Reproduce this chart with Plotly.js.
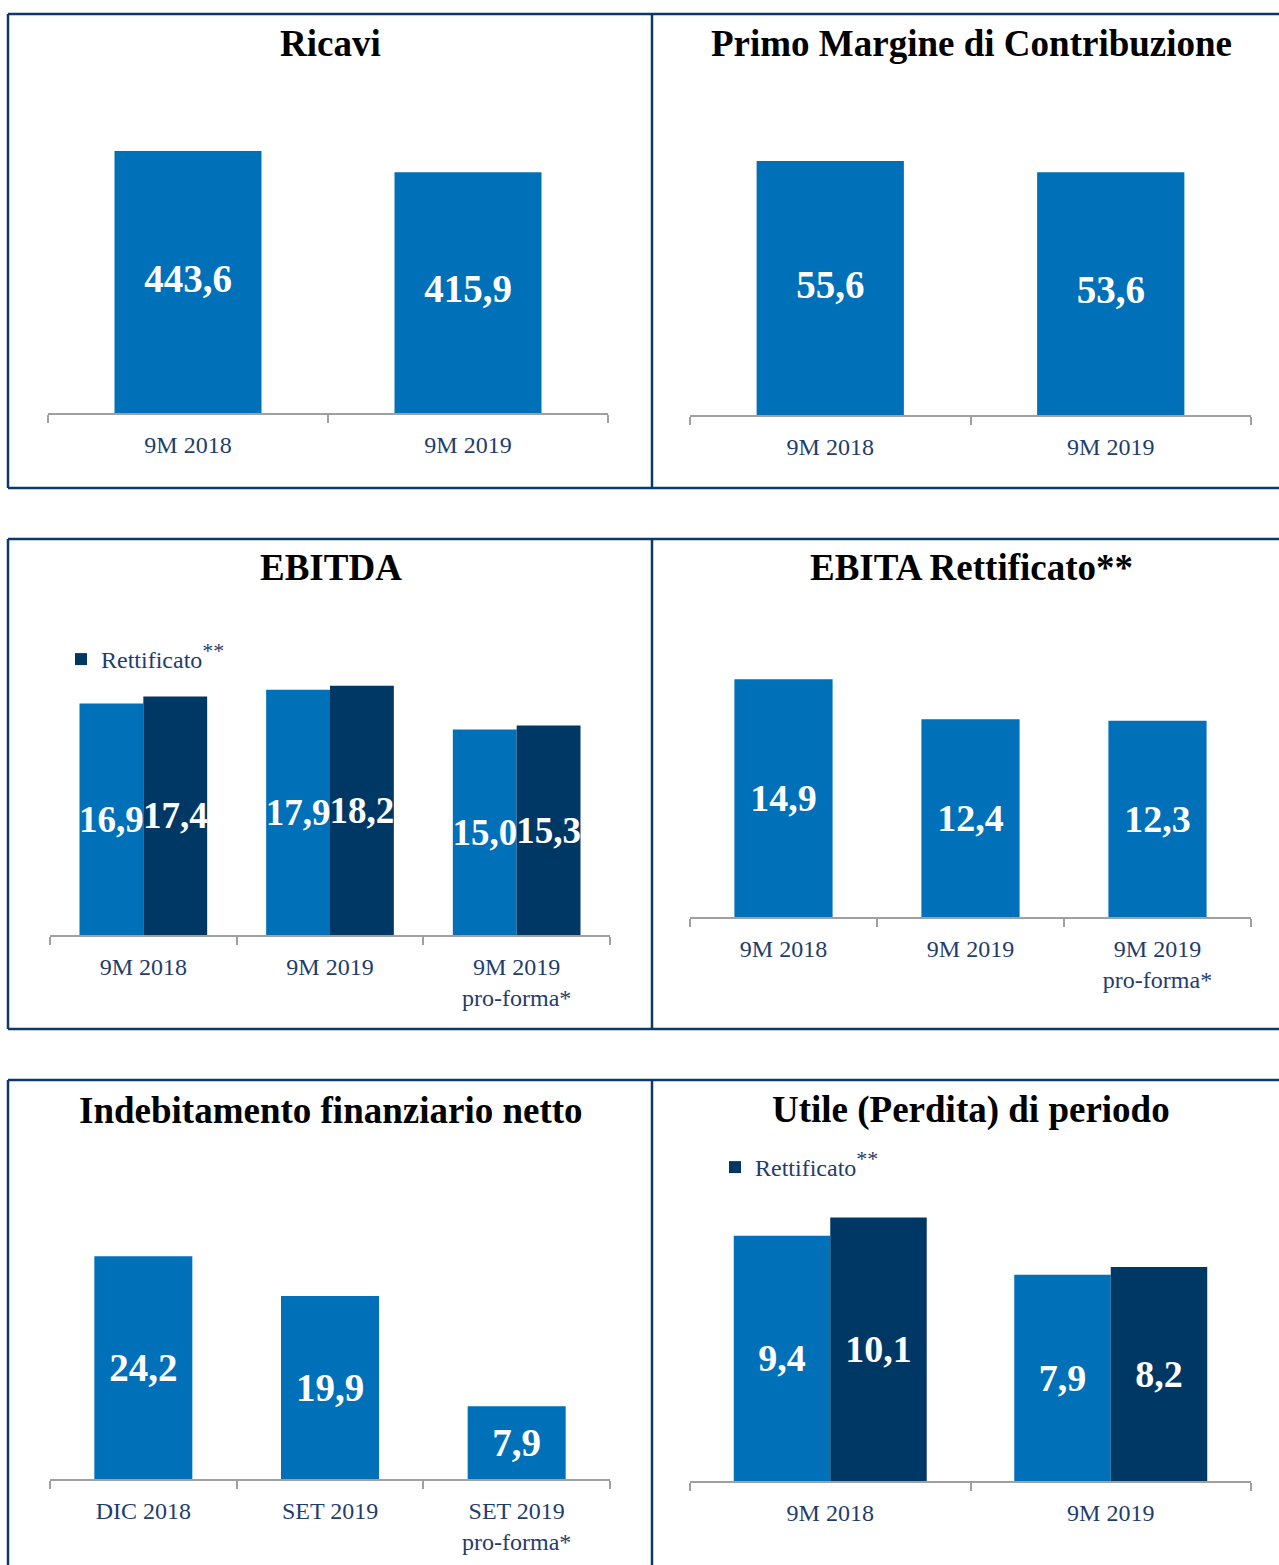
<!DOCTYPE html>
<html>
<head>
<meta charset="utf-8">
<script src="https://cdn.plot.ly/plotly-3.0.1.min.js"></script>
<style>html,body{margin:0;padding:0;background:#fff;}#chart{width:1279px;height:1565px;}</style>
</head>
<body>
<div id="chart"></div>
<script>
// ---- data ----
const catsRicavi = ['9M 2018', '9M 2019'];
const valsRicavi = [443.6, 415.9];

const catsPrimo = ['9M 2018', '9M 2019'];
const valsPrimo = [55.6, 53.6];

const catsEbitda = ['9M 2018', '9M 2019', '9M 2019<br>pro-forma*'];
const valsEbitda = [16.9, 17.9, 15.0];
const valsEbitdaAdj = [17.4, 18.2, 15.3];

const catsEbita = ['9M 2018', '9M 2019', '9M 2019<br>pro-forma*'];
const valsEbita = [14.9, 12.4, 12.3];

const catsDebt = ['DIC 2018', 'SET 2019', 'SET 2019<br>pro-forma*'];
const valsDebt = [24.2, 19.9, 7.9];

const catsUtile = ['9M 2018', '9M 2019'];
const valsUtile = [9.4, 7.9];
const valsUtileAdj = [10.1, 8.2];

const titles = ['Ricavi', 'Primo Margine di Contribuzione', 'EBITDA', 'EBITA Rettificato**',
                'Indebitamento finanziario netto', 'Utile (Perdita) di periodo'];
const legendLabel = "Rettificato<sup><span style='font-size:22px'>**</span></sup>";

// ---- style ----
const W = 1279, H = 1565;
const LIGHT = '#0070b8', DARK = '#003865', FRAME = '#0b3a6a';
const AXIS = '#a0a0a0', TICKTXT = '#1f3d6b';
const FONT = 'Liberation Serif';

const fmt = v => v.toFixed(1).replace('.', ',');
const dxp = (a, b) => [a / W, b / W];
const dyp = (bottom, top) => [1 - bottom / H, 1 - top / H];
function yRange(bottomPx, topPx, pxPerUnit, minVal) {
  return [minVal, minVal + (bottomPx - topPx) / pxPerUnit];
}

const valFont = (s) => ({family: FONT, size: s, color: '#ffffff', weight: 'bold'});

const traces = [];
function singleBar(n, cats, vals, size, inside) {
  const s = n === 1 ? '' : n;
  const t = {
    type: 'bar', x: cats, y: vals, xaxis: 'x' + s, yaxis: 'y' + s,
    marker: {color: LIGHT, line: {width: 0}}, width: 0.525, showlegend: false, hoverinfo: 'skip'
  };
  if (inside) {
    Object.assign(t, {text: vals.map(fmt), textposition: 'inside', insidetextanchor: 'middle', textangle: 0,
      constraintext: 'none', textfont: valFont(size), insidetextfont: valFont(size)});
  } else {
    t.textposition = 'none';
  }
  traces.push(t);
}
function textLabels(n, cats, vals, minVal, size) {
  const s = n === 1 ? '' : n;
  traces.push({
    type: 'scatter', mode: 'text', x: cats, y: vals.map(v => (v + minVal) / 2),
    text: vals.map(fmt), textposition: 'middle center', textfont: valFont(size),
    xaxis: 'x' + s, yaxis: 'y' + s, showlegend: false, hoverinfo: 'skip', cliponaxis: false
  });
}
function groupBars(n, cats, v1, v2, w, size, legendId) {
  const ax = {xaxis: 'x' + n, yaxis: 'y' + n};
  const common = {type: 'bar', x: cats, width: w, textposition: 'inside', insidetextanchor: 'middle',
    textangle: 0, constraintext: 'none', textfont: valFont(size), insidetextfont: valFont(size), hoverinfo: 'skip'};
  traces.push(Object.assign({}, common, {
    y: v1, offset: -w, marker: {color: LIGHT, line: {width: 0}}, text: v1.map(fmt), showlegend: false
  }, ax));
  traces.push(Object.assign({}, common, {
    y: v2, offset: 0, marker: {color: DARK, line: {width: 0}}, text: v2.map(fmt),
    name: legendLabel, legend: legendId
  }, ax));
}

const ricaviMin = 100, primoMin = 10;
singleBar(1, catsRicavi, valsRicavi, 39, false);
textLabels(1, catsRicavi, valsRicavi, ricaviMin, 39);
singleBar(2, catsPrimo, valsPrimo, 39, false);
textLabels(2, catsPrimo, valsPrimo, primoMin, 39);
groupBars(3, catsEbitda, valsEbitda, valsEbitdaAdj, 0.342, 37, 'legend');
singleBar(4, catsEbita, valsEbita, 38, true);
singleBar(5, catsDebt, valsDebt, 39, true);
groupBars(6, catsUtile, valsUtile, valsUtileAdj, 0.344, 38, 'legend2');

function xAx(a, b) {
  return {
    domain: dxp(a, b), type: 'category', showline: true, linecolor: AXIS, linewidth: 2,
    ticks: 'outside', tickson: 'boundaries', ticklen: 8, tickwidth: 2, tickcolor: AXIS,
    showgrid: false, zeroline: false, fixedrange: true, ticklabelstandoff: 9,
    tickfont: {family: FONT, size: 24, color: TICKTXT}
  };
}
function yAx(bottom, top, range) {
  return {domain: dyp(bottom, top), range: range, visible: false, showgrid: false, zeroline: false, fixedrange: true};
}

const panels = [
  {a: 48, b: 608, bottom: 413, top: 100, k: 0.7625, min: ricaviMin},
  {a: 690, b: 1251, bottom: 415, top: 100, k: 5.57, min: primoMin},
  {a: 50, b: 610, bottom: 935, top: 600, k: 13.7, min: 0},
  {a: 690, b: 1251, bottom: 917, top: 600, k: 15.95, min: 0},
  {a: 50, b: 610, bottom: 1479, top: 1150, k: 9.2, min: 0},
  {a: 690, b: 1251, bottom: 1481, top: 1150, k: 26.1, min: 0}
];

const layout = {
  width: W, height: H, margin: {l: 0, r: 0, t: 0, b: 0},
  paper_bgcolor: '#ffffff', plot_bgcolor: '#ffffff',
  barmode: 'overlay', separators: ',.',
  font: {family: FONT},
  legend: {x: 61 / W, y: 1 - 637 / H, xanchor: 'left', yanchor: 'top', bgcolor: 'rgba(0,0,0,0)',
           font: {family: FONT, size: 24, color: TICKTXT}},
  legend2: {x: 715 / W, y: 1 - 1145 / H, xanchor: 'left', yanchor: 'top', bgcolor: 'rgba(0,0,0,0)',
            font: {family: FONT, size: 24, color: TICKTXT}},
  annotations: [], shapes: []
};

panels.forEach((p, i) => {
  const n = i + 1, s = n === 1 ? '' : n;
  const xa = xAx(p.a, p.b);
  xa.anchor = 'y' + s;
  layout['xaxis' + s] = xa;
  layout['yaxis' + s] = yAx(p.bottom, p.top, yRange(p.bottom, p.top, p.k, p.min));
});

const titlePos = [[331, 43], [971, 43], [331, 568], [971, 568], [331, 1110], [971, 1110]];
titles.forEach((t, i) => {
  layout.annotations.push({
    text: t, xref: 'paper', yref: 'paper', x: titlePos[i][0] / W, y: 1 - titlePos[i][1] / H,
    xanchor: 'center', yanchor: 'middle', showarrow: false,
    font: {family: FONT, size: 37, color: '#000000', weight: 'bold'}
  });
});

function line(x0, y0, x1, y1) {
  layout.shapes.push({type: 'line', xref: 'paper', yref: 'paper', x0: x0 / W, y0: 1 - y0 / H, x1: x1 / W, y1: 1 - y1 / H,
    line: {color: FRAME, width: 2.5}});
}
// row frames
[[14, 488], [539, 1029], [1080, 1566]].forEach(([t, b], r) => {
  line(8, t, W + 2, t);
  if (r < 2) line(8, b, W + 2, b);
  line(8, t, 8, b);
  line(652, t, 652, b);
});

Plotly.newPlot('chart', traces, layout, {displayModeBar: false, staticPlot: true});
</script>
</body>
</html>
